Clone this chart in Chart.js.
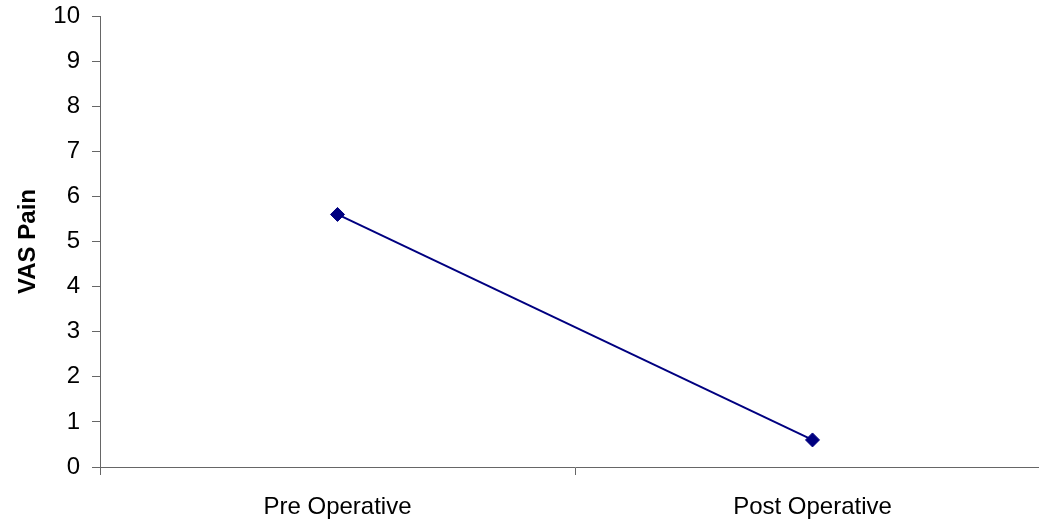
<!DOCTYPE html>
<html>
<head>
<meta charset="utf-8">
<script src="https://cdn.jsdelivr.net/npm/chart.js@4/dist/chart.umd.min.js"></script>
<style>
  html, body { margin: 0; padding: 0; background: #fff; overflow: hidden; }
</style>
</head>
<body>
<canvas id="myChart" width="1058" height="525"></canvas>
<script>
var categories = ['Pre Operative', 'Post Operative'];
var vasPain = [5.6, 0.6];
var yMin = 0, yMax = 10, yStep = 1;

var axisColor = '#666666';
var fontFamily = "'Liberation Sans', Arial, sans-serif";

var ctx = document.getElementById('myChart').getContext('2d');

var myChart = new Chart(ctx, {
    type: 'line',
    data: {
        labels: categories,
        datasets: [{
            label: 'VAS Pain',
            data: vasPain,
            borderColor: '#000080',
            backgroundColor: '#000080',
            borderWidth: 2,
            pointStyle: 'rectRot',
            pointRadius: 7,
            pointBorderWidth: 1,
            fill: false,
            tension: 0
        }]
    },
    options: {
        responsive: false,
        animation: false,
        devicePixelRatio: 1,
        layout: { padding: { left: 0, right: 1, top: 0, bottom: 0 } },
        plugins: {
            legend: { display: false },
            tooltip: { enabled: false }
        },
        scales: {
            x: {
                offset: true,
                grid: {
                    offset: true,
                    drawOnChartArea: false,
                    drawTicks: true,
                    tickLength: 8,
                    color: axisColor
                },
                border: { color: axisColor, width: 1 },
                ticks: {
                    color: '#000',
                    font: { family: fontFamily, size: 24 },
                    padding: 18,
                    maxRotation: 0
                },
                afterFit: function (axis) {
                    axis.height = 58;
                    axis.paddingLeft = 0;
                    axis.paddingRight = 0;
                }
            },
            y: {
                min: yMin,
                max: yMax,
                grid: {
                    drawOnChartArea: false,
                    drawTicks: true,
                    tickLength: 8,
                    color: axisColor
                },
                border: { color: axisColor, width: 1 },
                ticks: {
                    stepSize: yStep,
                    color: '#000',
                    font: { family: fontFamily, size: 24 },
                    padding: 12
                },
                title: {
                    display: true,
                    text: 'VAS Pain',
                    color: '#000',
                    font: { family: fontFamily, size: 24, weight: 'bold' },
                    padding: { top: 14, bottom: 0 }
                },
                afterFit: function (axis) {
                    axis.width = 100;
                    axis.paddingTop = 16;
                    axis.paddingBottom = 0;
                }
            }
        }
    }
});
</script>
</body>
</html>
